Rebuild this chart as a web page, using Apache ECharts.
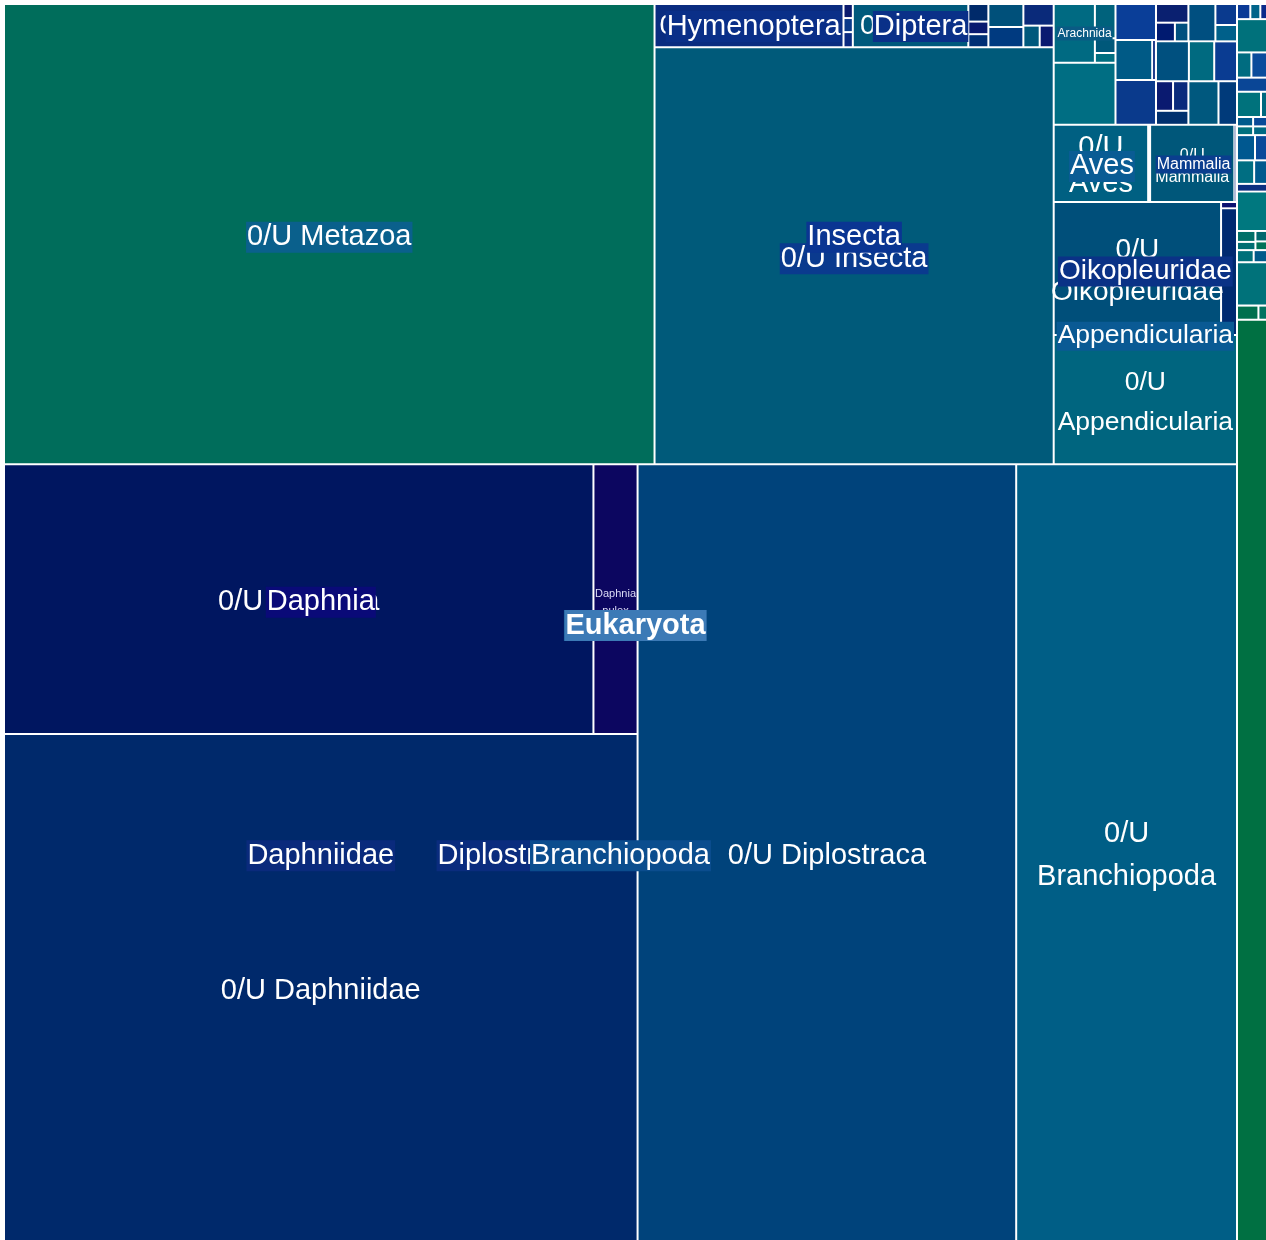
<!DOCTYPE html>
<html>
<head>
<meta charset="utf-8">
<script src="https://cdn.jsdelivr.net/npm/echarts@6/dist/echarts.min.js"></script>
<style>
  html, body { margin: 0; background: #fff; }
  #main { width: 1266px; height: 1240px; }
</style>
</head>
<body>
<div id="main"></div>
<script>
// [name, value] or [name, children]
const daphnia = [['0/U Daphnia', 157600], ['Daphnia pulex', 11800]];
const daphniidae = [['Daphnia', daphnia], ['0/U Daphniidae', 318400]];
const diplostraca = [['Daphniidae', daphniidae], ['0/U Diplostraca', 291500]];
const branchiopoda = [['Diplostraca', diplostraca], ['0/U Branchiopoda', 170000]];

const hymenoptera = [['0/U Hymenoptera', 8100], ['Apidae', 130], ['Formicidae', 130], ['Vespidae', 140]];
const diptera = [['0/U Diptera', 4950], ['Culicidae', 350], ['Chironomidae', 250], ['Drosophilidae', 260]];
const lepidoptera = [['0/U Lepidoptera', 800], ['Noctuidae', 700]];
const coleoptera = [['0/U Coleoptera', 650], ['Carabidae', 350], ['Curculionidae', 300]];
const insecta = [['Hymenoptera', hymenoptera], ['Diptera', diptera], ['Lepidoptera', lepidoptera],
  ['Coleoptera', coleoptera], ['0/U Insecta', 165000]];

const arachnida = [['0/U Arachnida', 2400], ['Araneae', 700], ['Mesostigmata', 300], ['Sarcoptiformes', 200]];
const gastropoda = [['0/U Gastropoda', 1450], ['Heterobranchia', 150]];
const hexanauplia = [['Calanoida', 600], ['Cyclopoida', 350], ['Harpacticoida', 250]];
const collembola = [['Entomobryomorpha', 450], ['Poduromorpha', 350]];
const hydrozoa = [['Anthoathecata', 500], ['Leptothecata', 450], ['Siphonophorae', 450]];
const smallClasses = [['Arachnida', arachnida], ['Actinopteri', 3800], ['Malacostraca', 1450],
  ['Gastropoda', gastropoda], ['Bivalvia', 1800], ['Hexanauplia', hexanauplia], ['Ostracoda', 1000],
  ['Collembola', collembola], ['Chromadorea', 1300], ['Clitellata', 1000], ['Polychaeta', 900],
  ['Hydrozoa', hydrozoa], ['Eurotatoria', 1300], ['Anthozoa', 800]];

const aves = [['0/U Aves', 7230], ['Passeriformes', 150]];
const mammalia = [['0/U Mammalia', 6450], ['Primates', 200]];
const oikopleuridae = [['0/U Oikopleuridae', 22050], ['Oikopleura longicauda', 100], ['Oikopleura dioica', 2000]];
const appendicularia = [['Oikopleuridae', oikopleuridae], ['0/U Appendicularia', 23500]];
const otherClasses = [['', smallClasses], ['Aves', aves], ['Mammalia', mammalia], ['Appendicularia', appendicularia]];

const metazoa = [['0/U Metazoa', 296800], ['Insecta', insecta], ['', otherClasses], ['Branchiopoda', branchiopoda]];

const ciliophora = [['Spirotrichea', 200], ['Oligohymenophorea', 150], ['Litostomatea', 100]];
const dinophyceae = [['Gymnodiniales', 600], ['Peridiniales', 150]];
const chrysophyceae = [['Ochromonadales', 150], ['Synurales', 140], ['Chromulinales', 130], ['Paraphysomonadales', 120]];
const oomycota = [['Saprolegniales', 450], ['Peronosporales', 300]];
const haptophyta = [['Prymnesiales', 400], ['Isochrysidales', 300], ['Phaeocystales', 230]];
const streptophyta = [['Zygnematophyceae', 200], ['Embryophyta', 150], ['Klebsormidiophyceae', 120], ['Charophyceae', 100]];
const ascomycota = [['Saccharomycetes', 200], ['Sordariomycetes', 160]];
const chytridiomycota = [['Chytridiomycetes', 300], ['Rhizophydiales', 120]];
const eukaryota = [['Metazoa', metazoa],
  ['Ciliophora', ciliophora], ['Chlorophyceae', 990], ['Bacillariophyta', 360], ['Cryptophyceae', 390],
  ['Cercozoa', 420], ['Dinophyceae', dinophyceae], ['Chrysophyceae', chrysophyceae], ['Oomycota', oomycota],
  ['Haptophyta', haptophyta], ['Trebouxiophyceae', 1170], ['Streptophyta', streptophyta],
  ['Ascomycota', ascomycota], ['Choanoflagellata', 1290], ['Chytridiomycota', chytridiomycota],
  ['0/U Eukaryota', 27400]];

const FONT = '"Liberation Sans", Arial, sans-serif';

const leafColors = {
  '0/U Metazoa': '#006d5b', '0/U Insecta': '#005a7a', '0/U Hymenoptera': '#0a2c80', '0/U Diptera': '#00597c',
  'Apidae': '#0a1a6e', 'Formicidae': '#0a3a8a', 'Vespidae': '#0a2a80', 'Culicidae': '#002a6a',
  'Chironomidae': '#0a1a70', 'Drosophilidae': '#002f75', '0/U Lepidoptera': '#00507a', 'Noctuidae': '#003a80',
  '0/U Coleoptera': '#0a2a7a', 'Carabidae': '#00587c', 'Curculionidae': '#0a1a70',
  '0/U Daphnia': '#001660', 'Daphnia pulex': '#0c0660', '0/U Daphniidae': '#00296b',
  '0/U Diplostraca': '#00437b', '0/U Branchiopoda': '#005e86',
  '0/U Aves': '#006082', 'Passeriformes': '#0a3a8a', '0/U Mammalia': '#00577a', 'Primates': '#0a2a80',
  '0/U Oikopleuridae': '#004f7a', 'Oikopleura longicauda': '#0a1070', 'Oikopleura dioica': '#002a70',
  '0/U Appendicularia': '#00657f',
  '0/U Arachnida': '#006a82', 'Araneae': '#00627c', 'Mesostigmata': '#00587a', 'Sarcoptiformes': '#006e80',
  'Actinopteri': '#006e83', 'Malacostraca': '#0a3e98', '0/U Gastropoda': '#005a86', 'Heterobranchia': '#0a2a80',
  'Bivalvia': '#0a3a8c', 'Calanoida': '#0a2070', 'Cyclopoida': '#001a70', 'Harpacticoida': '#00507f',
  'Ostracoda': '#004f80', 'Entomobryomorpha': '#0a3a8e', 'Poduromorpha': '#00608a', 'Chromadorea': '#00507f',
  'Clitellata': '#006a80', 'Polychaeta': '#0a3c92', 'Anthoathecata': '#0a1a70', 'Leptothecata': '#0a2a7c',
  'Siphonophorae': '#00306e', 'Eurotatoria': '#00587e', 'Anthozoa': '#003a7a',
  'Spirotrichea': '#0a3a96', 'Oligohymenophorea': '#00648a', 'Litostomatea': '#0a2a8a',
  'Chlorophyceae': '#00717b', 'Bacillariophyta': '#006c80', 'Cryptophyceae': '#0a4c9c', 'Cercozoa': '#0a4696',
  'Gymnodiniales': '#00727c', 'Peridiniales': '#00687e', 'Ochromonadales': '#005a8c', 'Synurales': '#00707e',
  'Chromulinales': '#0a4a98', 'Paraphysomonadales': '#006a84', 'Saprolegniales': '#005890',
  'Peronosporales': '#0a4a9a', 'Prymnesiales': '#006e82', 'Isochrysidales': '#005a8e', 'Phaeocystales': '#0a2f80',
  'Trebouxiophyceae': '#00787f', 'Zygnematophyceae': '#007068', 'Embryophyta': '#006e72',
  'Klebsormidiophyceae': '#00686e', 'Charophyceae': '#007258', 'Saccharomycetes': '#00707a',
  'Sordariomycetes': '#005a8a', 'Choanoflagellata': '#00727a', 'Chytridiomycetes': '#00704e',
  'Rhizophydiales': '#007260', '0/U Eukaryota': '#007042'
};

const splitFirst = p => p.name.replace(' ', '\n');

const baseLabel = {
  show: true, color: '#fff', fontFamily: FONT, fontSize: 29, lineHeight: 43,
  align: 'center', verticalAlign: 'middle', overflow: 'break', padding: 0, offset: [0, 3]
};
const leafLabels = {
  '0/U Daphnia': {}, '0/U Daphniidae': {}, '0/U Diplostraca': {},
  '0/U Branchiopoda': { formatter: splitFirst, overflow: 'none' },
  '0/U Aves': { formatter: splitFirst, overflow: 'none', lineHeight: 36 },
  '0/U Oikopleuridae': { formatter: splitFirst, overflow: 'none', fontSize: 28, lineHeight: 42 },
  '0/U Appendicularia': { formatter: splitFirst, overflow: 'none', fontSize: 26.5, lineHeight: 40 },
  '0/U Mammalia': { formatter: splitFirst, overflow: 'none', fontSize: 16, lineHeight: 22 },
  'Daphnia pulex': { formatter: splitFirst, overflow: 'none', fontSize: 11, lineHeight: 17, color: '#dcdcf5' },
  '0/U Hymenoptera': { overflow: 'truncate', ellipsis: '', lineHeight: 34, fontSize: 28, offset: [0, 1] },
  '0/U Diptera': { overflow: 'truncate', ellipsis: '', lineHeight: 34, fontSize: 28, offset: [0, 1] }
};

// labels drawn at the centre of a node, with a box behind them
const tagStyles = {
  'Eukaryota': { bg: '#3c7ab6', bold: true },
  'Metazoa': { bg: '#0a4f8c' },
  'Insecta': { bg: '#0a3592' },
  'Hymenoptera': { bg: '#0a2f88', dy: 1 },
  'Diptera': { bg: '#0a3088', dy: 1 },
  'Branchiopoda': { bg: '#0b4d8e' },
  'Diplostraca': { bg: '#0a2c7e' },
  'Daphniidae': { bg: '#0a2a7c' },
  'Daphnia': { bg: '#0a0a78' },
  'Arachnida': { bg: '#0a5a84', size: 12, dy: 0 },
  'Aves': { bg: '#0a5c94' },
  'Mammalia': { bg: '#0a3e8e', size: 16, dy: 1 },
  'Oikopleuridae': { bg: '#0a3286', size: 28 },
  'Appendicularia': { bg: '#0a5a94', size: 26.5 },
  '0/U Metazoa': { bg: '#0a608c' },
  '0/U Insecta': { bg: '#0a3a8e' }
};

function build(items) {
  return items.map(([name, v]) => {
    if (Array.isArray(v)) return { name, children: build(v) };
    const lab = leafLabels[name];
    return {
      name, value: v,
      itemStyle: { color: leafColors[name] || '#00607f' },
      label: lab ? Object.assign({}, baseLabel, lab) : { show: false }
    };
  });
}

const chart = echarts.init(document.getElementById('main'));

chart.setOption({
  animation: false,
  series: [{
    type: 'treemap',
    left: 5, top: 5, right: 0, bottom: 0,
    roam: false,
    nodeClick: false,
    sort: false,
    squareRatio: 1.18,
    breadcrumb: { show: false },
    emphasis: { disabled: true },
    itemStyle: { borderColor: '#fff', borderWidth: 0, gapWidth: 2 },
    label: { show: false },
    upperLabel: { show: false },
    data: build([['Eukaryota', eukaryota]])
  }]
});

// parent labels: put text at the centre of each node laid out by the treemap
const seriesModel = chart.getModel().getSeriesByIndex(0);
const info = seriesModel.layoutInfo || { x: 5, y: 5 };
const tags = [];
(function walk(node, ox, oy) {
  const l = node.getLayout();
  if (!l) return;
  const x = ox + (l.x || 0);
  const y = oy + (l.y || 0);
  const st = tagStyles[node.name];
  if (st) tags.push({ name: node.name, cx: x + l.width / 2, cy: y + l.height / 2, st, depth: node.depth });
  node.children.forEach(c => walk(c, x, y));
})(seriesModel.getData().tree.root, info.x || 0, info.y || 0);

tags.sort((a, b) => b.depth - a.depth);

chart.setOption({
  graphic: {
    elements: tags.map((t, i) => {
      const font = (t.st.bold ? 'bold ' : '') + (t.st.size || 29) + 'px ' + FONT;
      return {
        type: 'text', x: t.cx, y: t.cy + (t.st.dy != null ? t.st.dy : 3), z: 100 + i, silent: true,
        style: {
          legacy: false,
          text: t.name, fill: '#fff', font,
          align: 'center', verticalAlign: 'middle',
          backgroundColor: t.st.bg, padding: [1, 1]
        }
      };
    })
  }
});
</script>
</body>
</html>
